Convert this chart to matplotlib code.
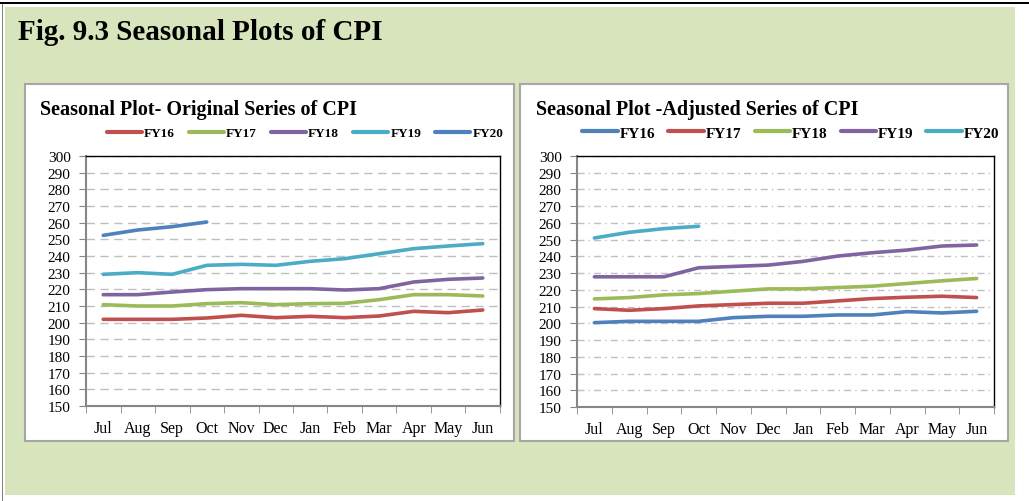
import numpy as np
import matplotlib
matplotlib.use('Agg')
from matplotlib import pyplot as plt
from matplotlib.patches import Rectangle

plt.rcParams['font.family'] = ['Liberation Serif', 'DejaVu Serif']

months = ['Jul', 'Aug', 'Sep', 'Oct', 'Nov', 'Dec', 'Jan', 'Feb', 'Mar', 'Apr', 'May', 'Jun']
years = ['FY16', 'FY17', 'FY18', 'FY19', 'FY20']

# original series
orig_fy16 = [202.0, 202.0, 202.0, 202.8, 204.4, 203.0, 203.8, 203.0, 204.0, 206.8, 206.0, 207.6]
orig_fy17 = [210.8, 210.0, 210.0, 211.4, 212.0, 210.8, 211.4, 211.6, 213.8, 216.8, 216.8, 216.0]
orig_fy18 = [216.8, 216.8, 218.4, 219.8, 220.4, 220.4, 220.4, 219.6, 220.4, 224.4, 226.0, 226.8]
orig_fy19 = [229.0, 230.0, 229.0, 234.4, 235.0, 234.4, 236.8, 238.4, 241.4, 244.4, 246.0, 247.4]
orig_fy20 = [252.4, 255.6, 257.6, 260.4]

# seasonally adjusted series
adj_fy16 = [200.4, 201.2, 201.2, 201.2, 203.4, 204.2, 204.2, 205.0, 205.0, 207.0, 206.2, 207.2]
adj_fy17 = [208.8, 207.8, 208.8, 210.4, 211.2, 212.0, 212.0, 213.4, 214.8, 215.6, 216.2, 215.4]
adj_fy18 = [214.6, 215.4, 217.0, 217.8, 219.2, 220.6, 220.6, 221.4, 222.2, 223.8, 225.4, 226.8]
adj_fy19 = [227.8, 227.8, 227.8, 233.2, 234.0, 234.8, 237.0, 240.2, 242.2, 243.8, 246.2, 246.8]
adj_fy20 = [251.0, 254.4, 256.6, 258.0]

# excel 2007 palette
blue, red, green, purple, cyan = '#4F81BD', '#C0504D', '#9BBB59', '#8064A2', '#4BACC6'

W, H = 1029, 502
fig = plt.figure(figsize=(W / 100, H / 100), dpi=100)


def px(x0, y0, x1, y1):
    # pixel box -> figure fraction
    return [x0 / W, 1 - y1 / H, (x1 - x0) / W, (y1 - y0) / H]


# background panel (negative zorder so the axes sit on top)
fig.patches.append(Rectangle((5 / W, 1 - 496 / H), 1010 / W, 488 / H, transform=fig.transFigure,
                             facecolor='#D8E4BC', edgecolor='none', zorder=-3))
fig.patches.append(Rectangle((0, 1 - 5 / H), 1, 2.5 / H, transform=fig.transFigure,
                             facecolor='black', edgecolor='none', zorder=-2))
fig.patches.append(Rectangle((1.5 / W, 0), 1.5 / W, 1 - 5 / H, transform=fig.transFigure,
                             facecolor='#808080', edgecolor='none', zorder=-2))
# white chart boxes
for x0, x1 in [(25, 514), (520, 1008)]:
    fig.patches.append(Rectangle((x0 / W, 1 - 442 / H), (x1 - x0) / W, (442 - 85) / H,
                                 transform=fig.transFigure, facecolor='white',
                                 edgecolor='#A6A6A6', linewidth=1.5, zorder=-1))

fig.text(18 / W, 1 - 33 / H, 'Fig. 9.3 Seasonal Plots of CPI', fontsize=21, fontweight='bold',
         va='center', ha='left')


def draw(box, title, tx, series, colors, grid_ls, leg_x, leg_fs, leg_hl, leg_cs):
    ax = fig.add_axes(px(*box))
    x = np.arange(len(months))
    for name, vals, c in zip(years, series, colors):
        ax.plot(x[:len(vals)], vals, color=c, lw=2.6, label=name, solid_capstyle='round')
    ax.set_xlim(-0.5, 11.5)
    ax.set_ylim(150, 300)
    ax.set_yticks(np.arange(150, 301, 10))
    ax.set_xticks(x)
    ax.set_xticklabels(months)
    ax.set_xticks(np.arange(-0.5, 12, 1), minor=True)
    ax.tick_params(axis='x', which='major', length=0, pad=10, labelsize=11.5)
    ax.tick_params(axis='x', which='minor', length=5, color='#868686', direction='out')
    ax.tick_params(axis='y', length=5, color='#868686', labelsize=11, pad=6)
    ax.yaxis.grid(True, color='#BFBFBF', lw=1, linestyle=grid_ls)
    ax.set_axisbelow(True)
    for s in ['top', 'right']:
        ax.spines[s].set_color('black')
        ax.spines[s].set_linewidth(1)
    for s in ['left', 'bottom']:
        ax.spines[s].set_color('#868686')
        ax.spines[s].set_linewidth(1.5)
    fig.text(tx / W, 1 - 110 / H, title, fontsize=14.5, fontweight='bold', va='center', ha='left')
    leg = ax.legend(loc='center', bbox_to_anchor=(leg_x, 1.092), ncol=5, frameon=False,
                    handlelength=leg_hl, handletextpad=0.15, columnspacing=leg_cs,
                    borderpad=0, borderaxespad=0,
                    prop={'weight': 'bold', 'size': leg_fs})
    for ln in leg.get_lines():
        ln.set_linewidth(3)
    return ax


draw((86, 157, 500, 407), 'Seasonal Plot- Original Series of CPI', 40,
     [orig_fy16, orig_fy17, orig_fy18, orig_fy19, orig_fy20],
     [red, green, purple, cyan, blue], (0, (6, 4)), 0.529, 9.5, 2.68, 1.05)
draw((577, 157, 994, 408), 'Seasonal Plot -Adjusted Series of CPI', 536,
     [adj_fy16, adj_fy17, adj_fy18, adj_fy19, adj_fy20],
     [blue, red, green, purple, cyan], (0, (5, 3, 1, 3)), 0.513, 11, 2.3, 0.85)

plt.savefig('out.png', dpi=100)
